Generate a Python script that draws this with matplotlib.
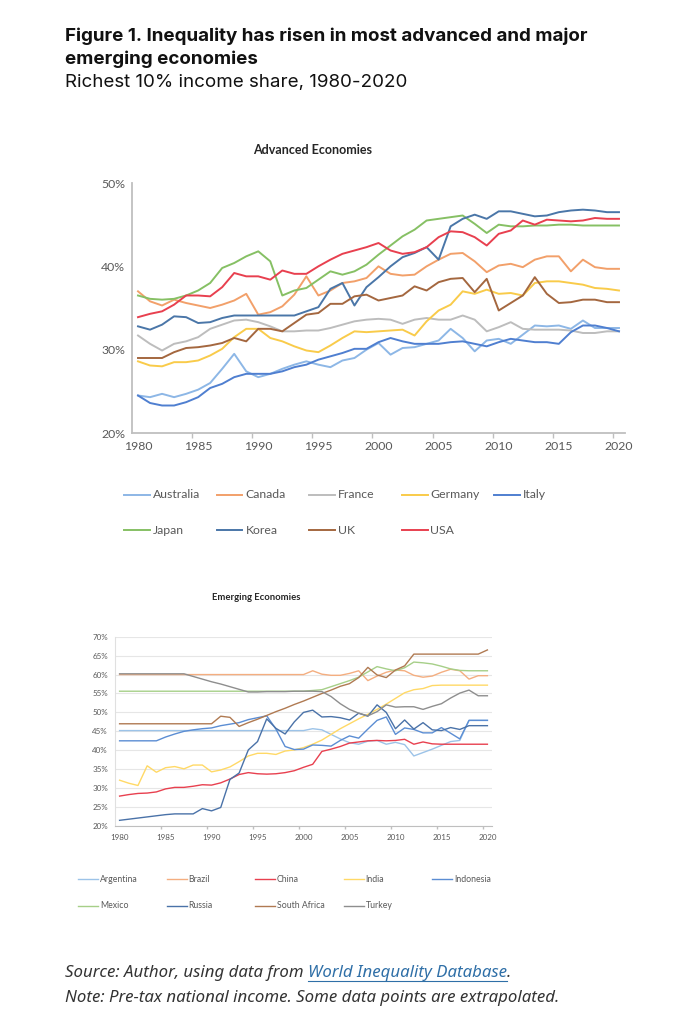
import matplotlib
matplotlib.use("Agg")
import matplotlib.pyplot as plt
from matplotlib.lines import Line2D

years = list(range(1980, 2021))

# ---- Advanced economies, richest 10% share (%) ----
adv_names = ["Australia", "Canada", "France", "Germany", "Italy",
             "Japan", "Korea", "UK", "USA"]
australia = [24.5, 24.3, 24.7, 24.3, 24.7, 25.2, 26.0, 27.7, 29.5, 27.4,
             26.7, 27.1, 27.7, 28.2, 28.6, 28.2, 27.9, 28.7, 29.0, 30.0,
             30.8, 29.4, 30.2, 30.3, 30.7, 31.1, 32.5, 31.4, 29.8, 31.1,
             31.3, 30.7, 31.8, 32.9, 32.8, 32.9, 32.5, 33.5, 32.6, 32.6,
             32.6]
canada = [37.0, 35.8, 35.3, 36.0, 35.6, 35.3, 35.0, 35.4, 35.9, 36.7,
          34.2, 34.5, 35.2, 36.6, 38.8, 36.5, 37.1, 38.0, 38.2, 38.6,
          40.0, 39.1, 38.9, 39.0, 40.0, 40.8, 41.5, 41.6, 40.6, 39.3,
          40.1, 40.3, 39.9, 40.8, 41.2, 41.2, 39.4, 40.8, 39.9, 39.7,
          39.7]
france = [31.7, 30.7, 29.9, 30.7, 31.0, 31.5, 32.5, 33.0, 33.5, 33.6,
          33.3, 32.8, 32.2, 32.2, 32.3, 32.3, 32.6, 33.0, 33.4, 33.6,
          33.7, 33.6, 33.1, 33.6, 33.8, 33.6, 33.6, 34.1, 33.6, 32.2,
          32.7, 33.3, 32.5, 32.4, 32.4, 32.4, 32.3, 32.0, 32.0, 32.2,
          32.2]
germany = [28.6, 28.1, 28.0, 28.5, 28.5, 28.7, 29.3, 30.1, 31.5, 32.5,
           32.5, 31.4, 31.0, 30.4, 29.9, 29.7, 30.5, 31.4, 32.2, 32.1,
           32.2, 32.3, 32.4, 31.7, 33.4, 34.7, 35.4, 37.0, 36.7, 37.2,
           36.7, 36.8, 36.5, 38.0, 38.2, 38.2, 38.0, 37.8, 37.4, 37.3,
           37.1]
italy = [24.5, 23.6, 23.3, 23.3, 23.7, 24.3, 25.4, 25.9, 26.7, 27.1,
         27.1, 27.1, 27.4, 27.9, 28.2, 28.8, 29.2, 29.6, 30.1, 30.1,
         30.9, 31.4, 31.0, 30.7, 30.7, 30.7, 30.9, 31.0, 30.7, 30.4,
         30.9, 31.3, 31.1, 30.9, 30.9, 30.7, 32.1, 32.9, 32.9, 32.6,
         32.2]
japan = [36.5, 36.1, 36.0, 36.1, 36.5, 37.1, 38.0, 39.8, 40.4, 41.2,
         41.8, 40.6, 36.5, 37.1, 37.4, 38.4, 39.4, 39.0, 39.4, 40.2,
         41.4, 42.5, 43.6, 44.4, 45.5, 45.7, 45.9, 46.1, 45.1, 44.0,
         45.0, 44.8, 44.8, 44.9, 44.9, 45.0, 45.0, 44.9, 44.9, 44.9,
         44.9]
korea = [32.8, 32.4, 33.0, 34.0, 33.9, 33.2, 33.3, 33.8, 34.1, 34.1,
         34.1, 34.1, 34.1, 34.1, 34.6, 35.1, 37.3, 38.0, 35.3, 37.5,
         38.7, 40.0, 41.1, 41.6, 42.3, 40.8, 44.8, 45.7, 46.2, 45.7,
         46.6, 46.6, 46.3, 46.0, 46.1, 46.5, 46.7, 46.8, 46.7, 46.5,
         46.5]
uk = [29.0, 29.0, 29.0, 29.7, 30.2, 30.3, 30.5, 30.8, 31.4, 31.0,
      32.5, 32.5, 32.2, 33.2, 34.2, 34.4, 35.5, 35.5, 36.4, 36.6,
      35.9, 36.2, 36.5, 37.6, 37.1, 38.1, 38.5, 38.6, 36.9, 38.5,
      34.7, 35.6, 36.5, 38.7, 36.7, 35.6, 35.7, 36.0, 36.0, 35.7,
      35.7]
usa = [33.9, 34.3, 34.6, 35.4, 36.5, 36.5, 36.4, 37.5, 39.2, 38.8,
       38.8, 38.4, 39.5, 39.1, 39.1, 40.0, 40.8, 41.5, 41.9, 42.3,
       42.8, 41.9, 41.5, 41.7, 42.3, 43.5, 44.2, 44.1, 43.5, 42.5,
       43.9, 44.3, 45.5, 45.0, 45.6, 45.5, 45.4, 45.5, 45.8, 45.7,
       45.7]
adv_values = [australia, canada, france, germany, italy, japan, korea, uk, usa]
adv_colors = ["#8DB7E6", "#F2A06A", "#BDBDBD", "#F9CB4A", "#4F7FD0",
              "#86C064", "#4A76A8", "#A4673F", "#E8404F"]

# ---- Emerging economies, richest 10% share (%) ----
emg_names = ["Argentina", "Brazil", "China", "India", "Indonesia",
             "Mexico", "Russia", "South Africa", "Turkey"]
argentina = [45.2, 45.2, 45.2, 45.2, 45.2, 45.2, 45.2, 45.2, 45.2, 45.2,
             45.2, 45.2, 45.2, 45.2, 45.2, 45.2, 45.2, 45.2, 45.2, 45.2,
             45.2, 45.7, 45.4, 44.2, 43.0, 42.0, 41.6, 42.4, 42.6, 41.6,
             42.1, 41.5, 38.5, 39.4, 40.3, 41.3, 42.3, 42.6, 47.9, 47.9,
             47.9]
brazil = [60.0, 60.0, 60.0, 60.0, 60.0, 60.0, 60.0, 60.0, 60.0, 60.0,
          60.0, 60.0, 60.0, 60.0, 60.0, 60.0, 60.0, 60.0, 60.0, 60.0,
          60.0, 61.0, 60.1, 59.8, 59.8, 60.3, 61.0, 58.4, 59.6, 60.6,
          61.2, 61.0, 59.8, 59.3, 59.6, 60.6, 61.4, 61.0, 58.8, 59.7,
          59.7]
china = [27.9, 28.3, 28.6, 28.7, 29.0, 29.8, 30.2, 30.2, 30.5, 30.9,
         30.8, 31.4, 32.4, 33.6, 34.1, 33.8, 33.7, 33.8, 34.1, 34.6,
         35.5, 36.3, 39.7, 40.3, 41.0, 41.9, 42.2, 42.5, 42.6, 42.5,
         42.6, 42.9, 41.6, 42.2, 41.7, 41.6, 41.6, 41.6, 41.6, 41.6,
         41.6]
india = [32.1, 31.3, 30.7, 35.9, 34.2, 35.4, 35.7, 35.1, 36.1, 36.1,
         34.3, 34.8, 35.6, 37.0, 38.5, 39.2, 39.2, 38.9, 39.8, 40.1,
         40.7, 41.6, 42.7, 44.2, 45.7, 47.0, 48.3, 49.5, 50.8, 52.2,
         53.7, 55.2, 56.0, 56.3, 57.1, 57.2, 57.2, 57.2, 57.2, 57.2,
         57.2]
indonesia = [42.5, 42.5, 42.5, 42.5, 42.5, 43.5, 44.3, 45.0, 45.4, 45.7,
             45.9, 46.5, 46.9, 47.3, 48.1, 48.6, 49.1, 45.6, 41.0, 40.2,
             40.3, 41.4, 41.3, 41.1, 42.6, 43.8, 43.2, 45.6, 47.9, 48.8,
             44.2, 45.9, 45.5, 44.6, 44.6, 46.0, 44.5, 43.0, 47.9, 47.9,
             47.9]
mexico = [55.6, 55.6, 55.6, 55.6, 55.6, 55.6, 55.6, 55.6, 55.6, 55.6,
          55.6, 55.6, 55.6, 55.6, 55.6, 55.6, 55.6, 55.6, 55.6, 55.6,
          55.6, 55.8, 56.0, 56.8, 57.6, 58.4, 59.3, 60.7, 62.1, 61.5,
          61.0, 61.8, 63.3, 63.1, 62.8, 62.2, 61.5, 61.1, 61.0, 61.0,
          61.0]
russia = [21.5, 21.8, 22.1, 22.4, 22.7, 23.0, 23.2, 23.2, 23.2, 24.6,
          24.0, 24.9, 32.3, 34.0, 40.1, 42.3, 48.3, 45.8, 44.3, 47.5,
          50.0, 50.6, 48.8, 48.9, 48.6, 48.0, 49.8, 49.0, 52.0, 50.0,
          45.7, 48.0, 45.6, 47.3, 45.4, 45.2, 46.0, 45.5, 46.5, 46.5,
          46.5]
south_africa = [47.0, 47.0, 47.0, 47.0, 47.0, 47.0, 47.0, 47.0, 47.0, 47.0,
                47.0, 49.0, 48.7, 46.3, 47.3, 48.2, 49.2, 50.2, 51.1, 52.1,
                53.0, 54.0, 55.0, 55.9, 56.9, 57.6, 59.2, 61.9, 59.9, 59.2,
                61.2, 62.3, 65.4, 65.4, 65.4, 65.4, 65.4, 65.4, 65.4, 65.4,
                66.5]
turkey = [60.2, 60.2, 60.2, 60.2, 60.2, 60.2, 60.2, 60.2, 59.5, 58.8,
          58.1, 57.5, 56.8, 56.1, 55.4, 55.4, 55.5, 55.5, 55.5, 55.6,
          55.6, 55.6, 55.5, 54.2, 52.3, 50.8, 49.8, 49.1, 50.2, 52.0,
          51.4, 51.5, 51.5, 50.8, 51.6, 52.3, 53.8, 55.1, 55.9, 54.4,
          54.4]
emg_values = [argentina, brazil, china, india, indonesia, mexico, russia,
              south_africa, turkey]
emg_colors = ["#9CC3E8", "#F4AE80", "#E8404F", "#FFD966", "#5B8DD3",
              "#A6CF88", "#4A72A8", "#B07A52", "#8E8E8E"]

W, H = 676, 1024
GRAY_TXT = "#595959"
CHART_FONT = ["Lato", "DejaVu Sans"]


def fx(px):
    return px / W


def fy(py):
    return 1 - py / H


def pct(v):
    return "%d%%" % v


def style_axis(ax, yticks, fs, ylim):
    ax.set_xlim(1979.5, 2020.5)
    ax.set_ylim(*ylim)
    ax.set_xticks(range(1980, 2021, 5))
    ax.set_xticklabels([str(y) for y in range(1980, 2021, 5)],
                       fontsize=fs, color=GRAY_TXT, family=CHART_FONT)
    ax.set_xticks([y + 0.5 for y in range(1984, 2020, 5)], minor=True)
    ax.set_yticks(yticks)
    ax.set_yticklabels([pct(v) for v in yticks], fontsize=fs,
                       color=GRAY_TXT, family=CHART_FONT)
    ax.tick_params(axis="x", which="major", length=0, pad=6)
    ax.tick_params(axis="x", which="minor", length=3.5, color="#BFBFBF",
                   width=1.0)
    ax.tick_params(axis="y", length=0, pad=5)
    for s in ["top", "right"]:
        ax.spines[s].set_visible(False)
    ax.spines["bottom"].set_color("#BFBFBF")
    ax.patch.set_alpha(0)


def draw_legend(names, colors, x0, dx, rows_y, line_len, gap, fs, lw):
    for i, (name, col) in enumerate(zip(names, colors)):
        r, c = divmod(i, 5)
        x = x0 + c * dx
        y = rows_y[r]
        fig.add_artist(Line2D([fx(x), fx(x + line_len)], [fy(y), fy(y)],
                              color=col, lw=lw, transform=fig.transFigure))
        fig.text(fx(x + line_len + gap), fy(y), name, fontsize=fs,
                 color=GRAY_TXT, va="center", ha="left", family=CHART_FONT)


fig = plt.figure(figsize=(W / 100, H / 100), dpi=100)

# ---- headline ----
head_font = ["Inter", "DejaVu Sans"]
fig.text(fx(65), fy(41), "Figure 1. Inequality has risen in most advanced and major",
         fontsize=13.5, fontweight="bold", family=head_font,
         color="#111111", va="baseline")
fig.text(fx(65), fy(64), "emerging economies", fontsize=13.5,
         fontweight="bold", family=head_font, color="#111111", va="baseline")
fig.text(fx(65), fy(87), "Richest 10% income share, 1980-2020", fontsize=13.5,
         family=head_font, color="#111111", va="baseline")

# ---- advanced economies chart ----
ax1 = fig.add_axes([fx(132), fy(433), (625 - 132) / W, (433 - 183) / H])
for vals, col in zip(adv_values, adv_colors):
    ax1.plot(years, vals, color=col, lw=1.4, solid_joinstyle="round")
style_axis(ax1, [20, 30, 40, 50], 8.8, (20, 50))
ax1.spines["left"].set_color("#BFBFBF")
ax1.spines["left"].set_linewidth(1.3)
ax1.spines["bottom"].set_linewidth(1.3)
fig.text(fx(313), fy(150), "Advanced Economies", fontsize=9.0,
         fontweight="bold", ha="center", va="center", color="#262626",
         family=CHART_FONT)
draw_legend(adv_names, adv_colors, 124, 92.5, [495, 530], 26, 3, 8.8, 1.4)

# ---- emerging economies chart ----
ax2 = fig.add_axes([fx(115), fy(826), (492 - 115) / W, (826 - 636.7) / H])
for vals, col in zip(emg_values, emg_colors):
    ax2.plot(years, vals, color=col, lw=1.0, solid_joinstyle="round")
style_axis(ax2, list(range(20, 71, 5)), 5.8, (20, 70))
ax2.yaxis.grid(True, color="#E6E6E6", lw=0.8)
ax2.set_axisbelow(True)
ax2.spines["left"].set_color("#E0E0E0")
ax2.tick_params(axis="x", which="minor", length=2.5)
fig.text(fx(256), fy(597), "Emerging Economies", fontsize=6.8,
         fontweight="bold", ha="center", va="center", color="#262626",
         family=CHART_FONT)
draw_legend(emg_names, emg_colors, 78, 88.5, [879, 906], 20, 2, 6.3, 1.0)

# ---- source notes ----
note_font = ["Noto Sans", "DejaVu Sans"]
NOTE_FS = 12.1
src = fig.text(fx(65), fy(977), "Source: Author, using data from ",
               fontsize=NOTE_FS, style="italic", family=note_font,
               color="#333333", va="baseline")
fig.canvas.draw()
r = fig.canvas.get_renderer()
bb = src.get_window_extent(renderer=r)
link = fig.text(bb.x1 / W, fy(977), "World Inequality Database",
                fontsize=NOTE_FS, style="italic", family=note_font,
                color="#2F6FA7", va="baseline")
bl = link.get_window_extent(renderer=r)
fig.add_artist(Line2D([bl.x0 / W, bl.x1 / W], [fy(980.5), fy(980.5)],
                      color="#2F6FA7", lw=0.8, transform=fig.transFigure))
fig.text(bl.x1 / W, fy(977), ".", fontsize=NOTE_FS, style="italic",
         family=note_font, color="#333333", va="baseline")
fig.text(fx(65), fy(1002),
         "Note: Pre-tax national income. Some data points are extrapolated.",
         fontsize=NOTE_FS, style="italic", family=note_font, color="#333333",
         va="baseline")

fig.savefig("out.png", dpi=100)
